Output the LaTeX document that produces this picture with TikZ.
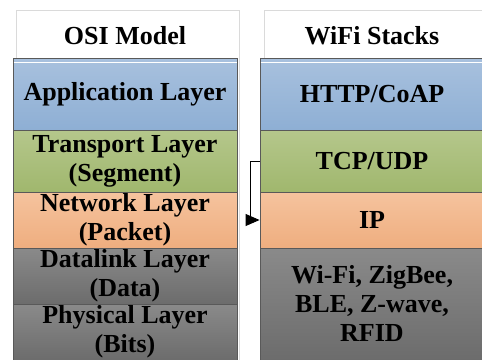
\documentclass[tikz,border=0pt]{standalone}
\usepackage{fontspec}
\setmainfont{Liberation Serif}[BoldFont={Liberation Serif Bold}]
\usetikzlibrary{arrows.meta}
\definecolor{bordergray}{HTML}{595959}
\definecolor{headgray}{HTML}{DADADA}
\definecolor{blueT}{HTML}{A8C1DE}\definecolor{blueB}{HTML}{8EAFD4}
\definecolor{greenT}{HTML}{B5C78C}\definecolor{greenB}{HTML}{A0B76D}
\definecolor{orangeT}{HTML}{F5C39E}\definecolor{orangeB}{HTML}{EFAE7F}
\definecolor{grayT}{HTML}{8A8A8A}\definecolor{grayB}{HTML}{6C6C6C}
\tikzset{
  txt/.style={font=\rmfamily\bfseries\fontsize{26}{29}\selectfont, align=center, text=black, inner sep=0pt},
  layer/.style={draw=bordergray, line width=0.9pt, minimum width=224pt, inner sep=0pt,
    txt},
  bluebox/.style={layer, top color=blueT, bottom color=blueB},
  greenbox/.style={layer, top color=greenT, bottom color=greenB},
  orangebox/.style={layer, top color=orangeT, bottom color=orangeB},
  graybox/.style={layer, top color=grayT, bottom color=grayB},
  head/.style={draw=headgray, line width=0.8pt, fill=white},
}
\begin{document}
\begin{tikzpicture}[x=1pt,y=-1pt]
\useasboundingbox (0,0) rectangle (482,359);
\clip (0,0) rectangle (482,359);
% header backgrounds
\draw[head] (16,10) rectangle (239,380);
\draw[head] (264,10) rectangle (500,380);
\node[txt] (osi) at (125,35.5) {OSI Model};
\node[txt] (wifi) at (372,35.5) {WiFi Stacks};
% left column
\node[bluebox, minimum height=72pt] (app) at (125,94) {Application Layer};
\node[greenbox, minimum height=62pt] (trans) at (125,161) {Transport Layer\\(Segment)};
\node[orangebox, minimum height=56pt] (net) at (125,220) {Network Layer\\(Packet)};
\node[graybox, minimum height=56pt] (dl) at (125,276) {Datalink Layer\\(Data)};
\node[graybox, minimum height=56pt] (phy) at (125,332) {Physical Layer\\(Bits)};
% right column
\node[bluebox, minimum height=72pt] (http) at (372,94) {HTTP/CoAP};
\node[greenbox, minimum height=62pt] (tcp) at (372,161) {TCP/UDP};
\node[orangebox, minimum height=56pt] (ip) at (372,220) {IP};
\node[graybox, minimum height=112pt] (phys) at (372,304) {Wi-Fi, ZigBee,\\BLE, Z-wave,\\RFID};
% white separator line
\draw[white, line width=0.8pt] (13.5,62) -- (236.5,62);
\draw[white, line width=0.8pt] (260.5,62) -- (482,62);
% connector
\draw[black, line width=0.9pt, -{Triangle[length=14pt,width=12pt]}] (tcp.west) -- ++(-9,0) |- (ip.west);
\end{tikzpicture}
\end{document}
